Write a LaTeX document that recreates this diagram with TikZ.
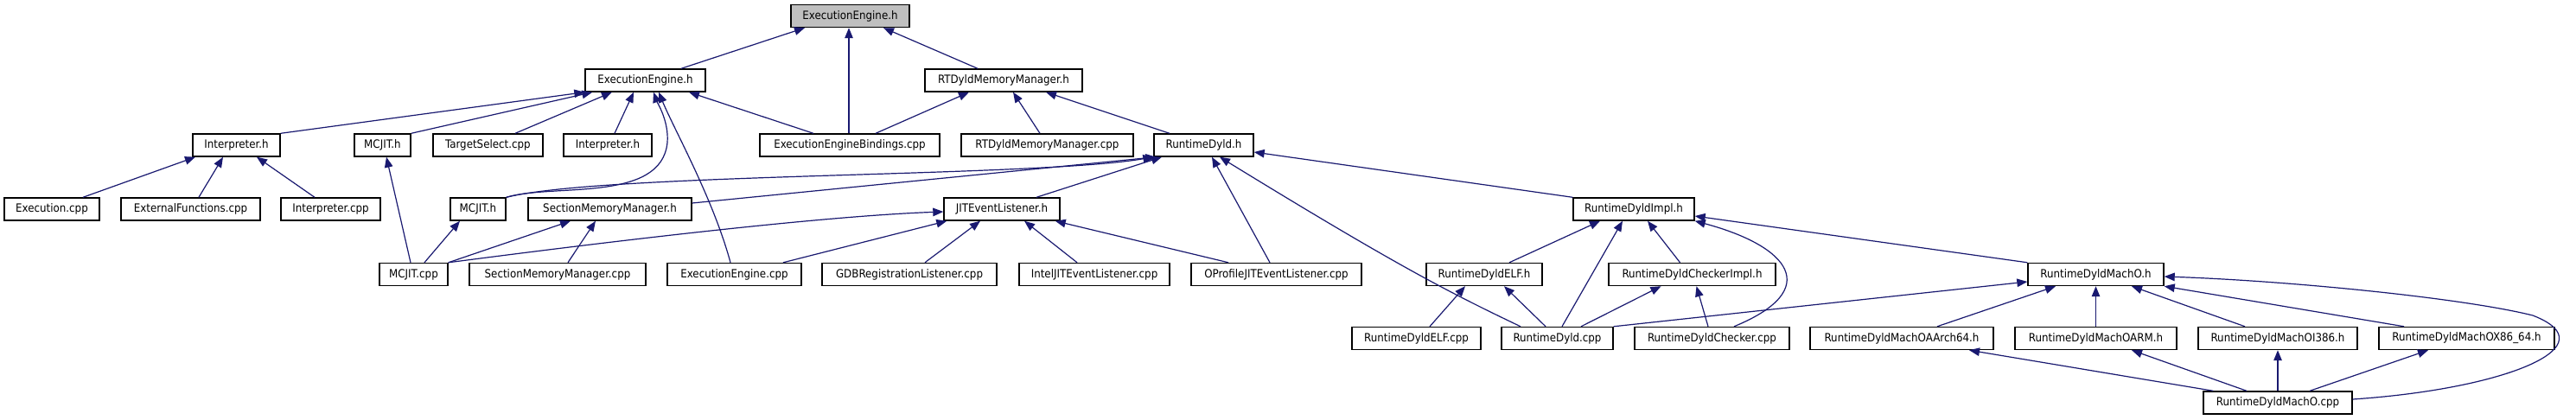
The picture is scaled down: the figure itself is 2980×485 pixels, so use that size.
\documentclass[tikz,border=0pt]{standalone}
\usepackage{fontspec}
\setmainfont{DejaVu Sans Condensed}
\usetikzlibrary{arrows.meta}
\definecolor{edgec}{HTML}{191970}
\definecolor{topfill}{HTML}{BFBFBF}
\tikzset{
 box/.style={draw=black, fill=white, line width=1.4pt, minimum height=26pt, inner sep=0pt, font=\fontsize{13.2}{15}\selectfont},
 edge/.style={draw=edgec, line width=1.2pt, -{Triangle[length=12pt,width=9.5pt]}},
}
\begin{document}
\begin{tikzpicture}[x=1pt,y=-1pt]
\useasboundingbox (0,0) rectangle (2980,485);
\fill[white] (0,0) rectangle (2980,485);
% row 1
\node[box,fill=topfill,minimum width=137pt] (EEh0) at (983.5,18.5) {ExecutionEngine.h};
% row 2
\node[box,minimum width=139pt] (EEh) at (746.5,93) {ExecutionEngine.h};
\node[box,minimum width=182pt] (RTDh) at (1161,93) {RTDyldMemoryManager.h};
% row 3
\node[box,minimum width=101pt] (Interp) at (273.5,168) {Interpreter.h};
\node[box,minimum width=65pt] (MCJITha) at (442.5,168) {MCJIT.h};
\node[box,minimum width=127pt] (TSel) at (564.5,168) {TargetSelect.cpp};
\node[box,minimum width=102pt] (Interpb) at (703,168) {Interpreter.h};
\node[box,minimum width=208pt] (EEB) at (983,168) {ExecutionEngineBindings.cpp};
\node[box,minimum width=199pt] (RTDcpp) at (1211.5,168) {RTDyldMemoryManager.cpp};
\node[box,minimum width=115pt] (RDh) at (1392.5,168) {RuntimeDyld.h};
% row 4
\node[box,minimum width=110pt] (Exec) at (60,242) {Execution.cpp};
\node[box,minimum width=161pt] (ExtF) at (220.5,242) {ExternalFunctions.cpp};
\node[box,minimum width=115pt] (InterpCpp) at (382.5,242) {Interpreter.cpp};
\node[box,minimum width=64pt] (MCJIThb) at (553,242) {MCJIT.h};
\node[box,minimum width=189pt] (SMMh) at (705.5,242) {SectionMemoryManager.h};
\node[box,minimum width=134pt] (JITh) at (1159,242) {JITEventListener.h};
\node[box,minimum width=140pt] (RDImpl) at (1890,242) {RuntimeDyldImpl.h};
% row 5
\node[box,minimum width=79pt] (MCJITcpp) at (478.5,317.5) {MCJIT.cpp};
\node[box,minimum width=204pt] (SMMcpp) at (645,317.5) {SectionMemoryManager.cpp};
\node[box,minimum width=155pt] (EEcpp) at (849.5,317.5) {ExecutionEngine.cpp};
\node[box,minimum width=202pt] (GDB) at (1052,317.5) {GDBRegistrationListener.cpp};
\node[box,minimum width=174pt] (Intel) at (1266,317.5) {IntelJITEventListener.cpp};
\node[box,minimum width=197pt] (OProf) at (1476.5,317.5) {OProfileJITEventListener.cpp};
\node[box,minimum width=134pt] (ELFh) at (1717,317.5) {RuntimeDyldELF.h};
\node[box,minimum width=193pt] (CheckImpl) at (1957.5,317.5) {RuntimeDyldCheckerImpl.h};
\node[box,minimum width=157pt] (MachOh) at (2424.5,317.5) {RuntimeDyldMachO.h};
% row 6
\node[box,minimum width=149pt] (ELFcpp) at (1638.5,391.5) {RuntimeDyldELF.cpp};
\node[box,minimum width=129pt] (RDcpp) at (1801.5,391.5) {RuntimeDyld.cpp};
\node[box,minimum width=179pt] (Checkcpp) at (1980.5,391.5) {RuntimeDyldChecker.cpp};
\node[box,minimum width=212pt] (AArch) at (2200,391.5) {RuntimeDyldMachOAArch64.h};
\node[box,minimum width=187pt] (ARM) at (2424.5,391.5) {RuntimeDyldMachOARM.h};
\node[box,minimum width=184pt] (I386) at (2635,391.5) {RuntimeDyldMachOI386.h};
\node[box,minimum width=203pt] (X86) at (2853.5,391.5) {RuntimeDyldMachOX86\_64.h};
% row 7
\node[box,minimum width=172pt] (MachOcpp) at (2635,466) {RuntimeDyldMachO.cpp};
% edges
\draw[edge] ([xshift=41.5pt]EEh.north) -- ([xshift=-52.5pt]EEh0.south);
\draw[edge] ([xshift=-1pt]EEB.north) -- ([xshift=-1.5pt]EEh0.south);
\draw[edge] ([xshift=-30pt]RTDh.north) -- ([xshift=38.5pt]EEh0.south);
\draw[edge] (Interp.north east) -- (EEh.south west);
\draw[edge] (MCJITha.north east) -- ([xshift=9pt]EEh.south west);
\draw[edge] (MCJIThb.north east) .. controls (640,212) and (765,235) .. (772,165) .. controls (774,140) and (760,118) .. ([xshift=9.5pt]EEh.south);
\draw[edge] ([xshift=31.5pt]TSel.north) -- ([xshift=-38.5pt]EEh.south);
\draw[edge] ([xshift=8pt]Interpb.north) -- ([xshift=-13.5pt]EEh.south);
\draw[edge] ([xshift=-4.5pt]EEcpp.north) .. controls (825,230) and (780,150) .. ([xshift=15.5pt]EEh.south);
\draw[edge] ([xshift=-42pt]EEB.north) -- ([xshift=50.5pt]EEh.south);
\draw[edge] ([xshift=30pt]EEB.north) -- ([xshift=-40pt]RTDh.south);
\draw[edge] ([xshift=-8.5pt]RTDcpp.north) -- ([xshift=11pt]RTDh.south);
\draw[edge] ([xshift=-39.5pt]RDh.north) -- ([xshift=49pt]RTDh.south);
\draw[edge] (MCJIThb.north east) .. controls (700,200) and (1200,205) .. (RDh.south west);
\draw[edge] ([yshift=7pt]SMMh.east) -- ([xshift=3pt]RDh.south west);
\draw[edge] ([xshift=40pt]JITh.north) -- ([xshift=-48.5pt]RDh.south);
\draw[edge] ([xshift=-7.5pt]OProf.north) -- ([xshift=9.5pt]RDh.south);
\draw[edge] ([xshift=-42.5pt]RDcpp.north) .. controls (1680,340) and (1620,310) .. ([xshift=18.5pt]RDh.south);
\draw[edge] ([xshift=-3.5pt]MCJITcpp.north) -- ([xshift=4.5pt]MCJITha.south);
\draw[edge] (RDImpl.north west) -- ([yshift=-8pt]RDh.east);
\draw[edge] (MCJITcpp.north east) .. controls (700,280) and (950,250) .. ([yshift=-3pt]JITh.west);
\draw[edge] ([xshift=56.5pt]EEcpp.north) -- ([xshift=4pt]JITh.south west);
\draw[edge] ([xshift=18pt]GDB.north) -- ([xshift=-25pt]JITh.south);
\draw[edge] ([xshift=-20pt]Intel.north) -- ([xshift=26pt]JITh.south);
\draw[edge] ([xshift=-55.5pt]OProf.north) -- ([xshift=-6pt]JITh.south east);
\draw[edge] ([xshift=12.5pt]MCJITcpp.north) -- ([xshift=-21pt]MCJIThb.south);
\draw[edge] (MCJITcpp.north east) -- ([xshift=-45.5pt]SMMh.south);
\draw[edge] ([xshift=12pt]SMMcpp.north) -- ([xshift=-16.5pt]SMMh.south);
\draw[edge] ([xshift=36pt]Exec.north) -- ([xshift=-47.5pt]Interp.south);
\draw[edge] ([xshift=9.5pt]ExtF.north) -- ([xshift=-15.5pt]Interp.south);
\draw[edge] ([xshift=-18.5pt]InterpCpp.north) -- ([xshift=23.5pt]Interp.south);
\draw[edge] ([xshift=29pt]ELFh.north) -- ([xshift=-39pt]RDImpl.south);
\draw[edge] ([xshift=5.5pt]RDcpp.north) -- ([xshift=-13pt]RDImpl.south);
\draw[edge] ([xshift=-14pt]CheckImpl.north) -- ([xshift=16pt]RDImpl.south);
\draw[edge] ([xshift=25.5pt]Checkcpp.north) .. controls (2110,335) and (2070,285) .. (RDImpl.south east);
\draw[edge] (MachOh.north west) -- ([yshift=-8pt]RDImpl.east);
\draw[edge] ([xshift=15.5pt]ELFcpp.north) -- ([xshift=-22pt]ELFh.south);
\draw[edge] ([xshift=-13.5pt]RDcpp.north) -- ([xshift=23pt]ELFh.south);
\draw[edge] ([xshift=27.5pt]RDcpp.north) -- ([xshift=-36pt]CheckImpl.south);
\draw[edge] ([xshift=-4.5pt]Checkcpp.north) -- ([xshift=5pt]CheckImpl.south);
\draw[edge] (RDcpp.north east) -- ([yshift=-8.5pt]MachOh.west);
\draw[edge] ([xshift=41pt]AArch.north) -- ([xshift=-46.5pt]MachOh.south);
\draw[edge] (ARM.north) -- (MachOh.south);
\draw[edge] ([xshift=-38pt]I386.north) -- ([xshift=41.5pt]MachOh.south);
\draw[edge] ([xshift=-72.5pt]X86.north) -- (MachOh.south east);
\draw[edge] ([yshift=4pt]MachOcpp.east) .. controls (2900,450) and (3020,400) .. (2930,365) .. controls (2850,345) and (2650,325) .. ([yshift=-2.5pt]MachOh.east);
\draw[edge] ([xshift=12pt]MachOcpp.north west) -- ([xshift=78pt]AArch.south);
\draw[edge] ([xshift=-36pt]MachOcpp.north) -- ([xshift=41.5pt]ARM.south);
\draw[edge] (MachOcpp.north) -- (I386.south);
\draw[edge] ([xshift=37pt]MachOcpp.north) -- ([xshift=-44.5pt]X86.south);
\end{tikzpicture}
\end{document}
